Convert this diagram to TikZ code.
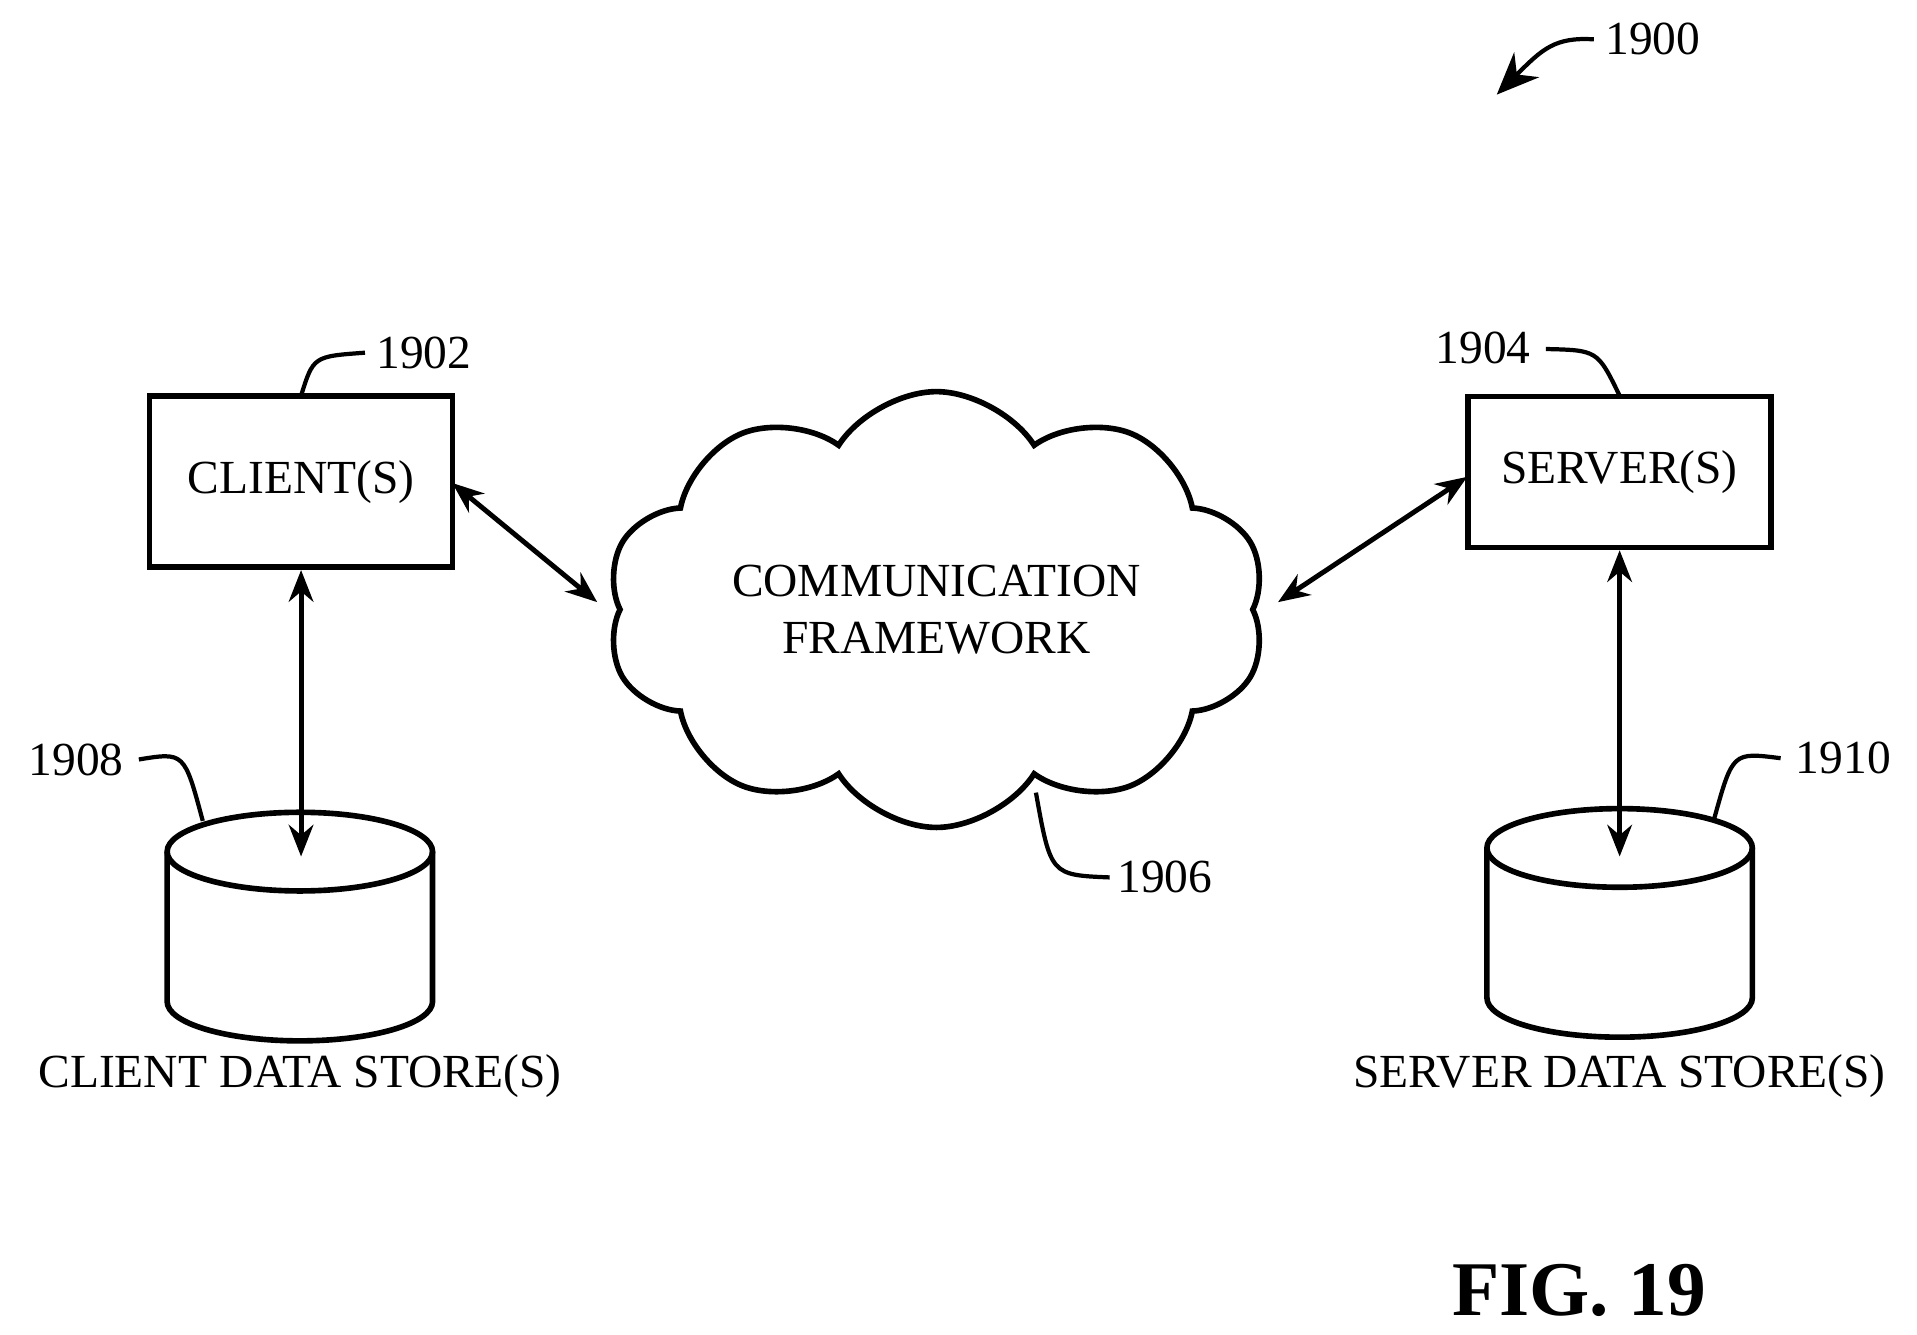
\documentclass[tikz,border=0pt]{standalone}
\usepackage{fontspec}
\setmainfont{Liberation Serif}
\usetikzlibrary{shapes.symbols,arrows.meta}
\tikzset{
    box/.style = {draw, line width=1.6pt, font=\fontsize{13.5}{16}\selectfont},
    store/.style = {line width=1.6pt},
    link/.style = {line width=1.4pt, {Stealth[length=9pt,width=7pt]}-{Stealth[length=9pt,width=7pt]}},
    lead/.style = {line width=1.2pt},
    refnum/.style = {font=\fontsize{13.5}{16}\selectfont}
}
\newcommand{\datastore}[2]{%
    \draw[store] (#1,#2) ellipse (108 and 32);
    \draw[store] (#1-108,#2) -- (#1-108,#2+122) arc[start angle=180, end angle=0, x radius=108, y radius=32] -- (#1+108,#2);
}
\begin{document}
\begin{tikzpicture}[x=0.01229cm, y=-0.01229cm]
    \useasboundingbox (0,0) rectangle (1560,1086);
    % boxes
    \node[box, minimum width=3.03cm, minimum height=1.71cm] (client) at (245,392) {CLIENT(S)};
    \node[box, minimum width=3.03cm, minimum height=1.51cm] (server) at (1318,384) {SERVER(S)};
    \node[draw, line width=1.6pt, cloud, cloud puffs=10, cloud puff arc=115, aspect=1.75,
        minimum width=6.6cm, minimum height=3.8cm, align=center,
        font=\fontsize{13.5}{16}\selectfont] (net) at (762,496) {COMMUNICATION\\FRAMEWORK};
    % data stores
    \datastore{244}{693}
    \datastore{1318}{690}
    \node[font=\fontsize{13.5}{16}\selectfont] (clab) at (244,876) {CLIENT DATA STORE(S)};
    \node[font=\fontsize{13.5}{16}\selectfont] (slab) at (1318,876) {SERVER DATA STORE(S)};
    \coordinate (ctop) at (245,697);
    \coordinate (stop) at (1318,697);
    % connectors
    \draw[link] (client.south) -- (ctop);
    \draw[link] (server.south) -- (stop);
    \draw[link] (368,393) -- (486,490);
    \draw[link] (1194,388) -- (1040,490);
    % reference numerals
    \node[refnum] (n1902) at (345,287) {1902};
    \node[refnum] (n1904) at (1207,283) {1904};
    \node[refnum] (n1908) at (62,618) {1908};
    \node[refnum] (n1910) at (1500,617) {1910};
    \node[refnum] (n1906) at (948,714) {1906};
    \node[refnum] (n1900) at (1345,32) {1900};
    \draw[lead] (245,322) .. controls (255,290) .. (297,287);
    \draw[lead] (1318,322) .. controls (1300,285) .. (1258,284);
    \draw[lead] (113,618) .. controls (150,612) .. (165,668);
    \draw[lead] (1449,617) .. controls (1410,612) .. (1395,666);
    \draw[lead] (843,645) .. controls (855,712) .. (903,714);
    \draw[lead, -{Stealth[length=12pt,width=10pt]}] (1297,32) .. controls (1265,30) and (1255,40) .. (1218,77);
    \node[font=\bfseries\fontsize{22}{26}\selectfont] (fig) at (1285,1050) {FIG. 19};
\end{tikzpicture}
\end{document}
